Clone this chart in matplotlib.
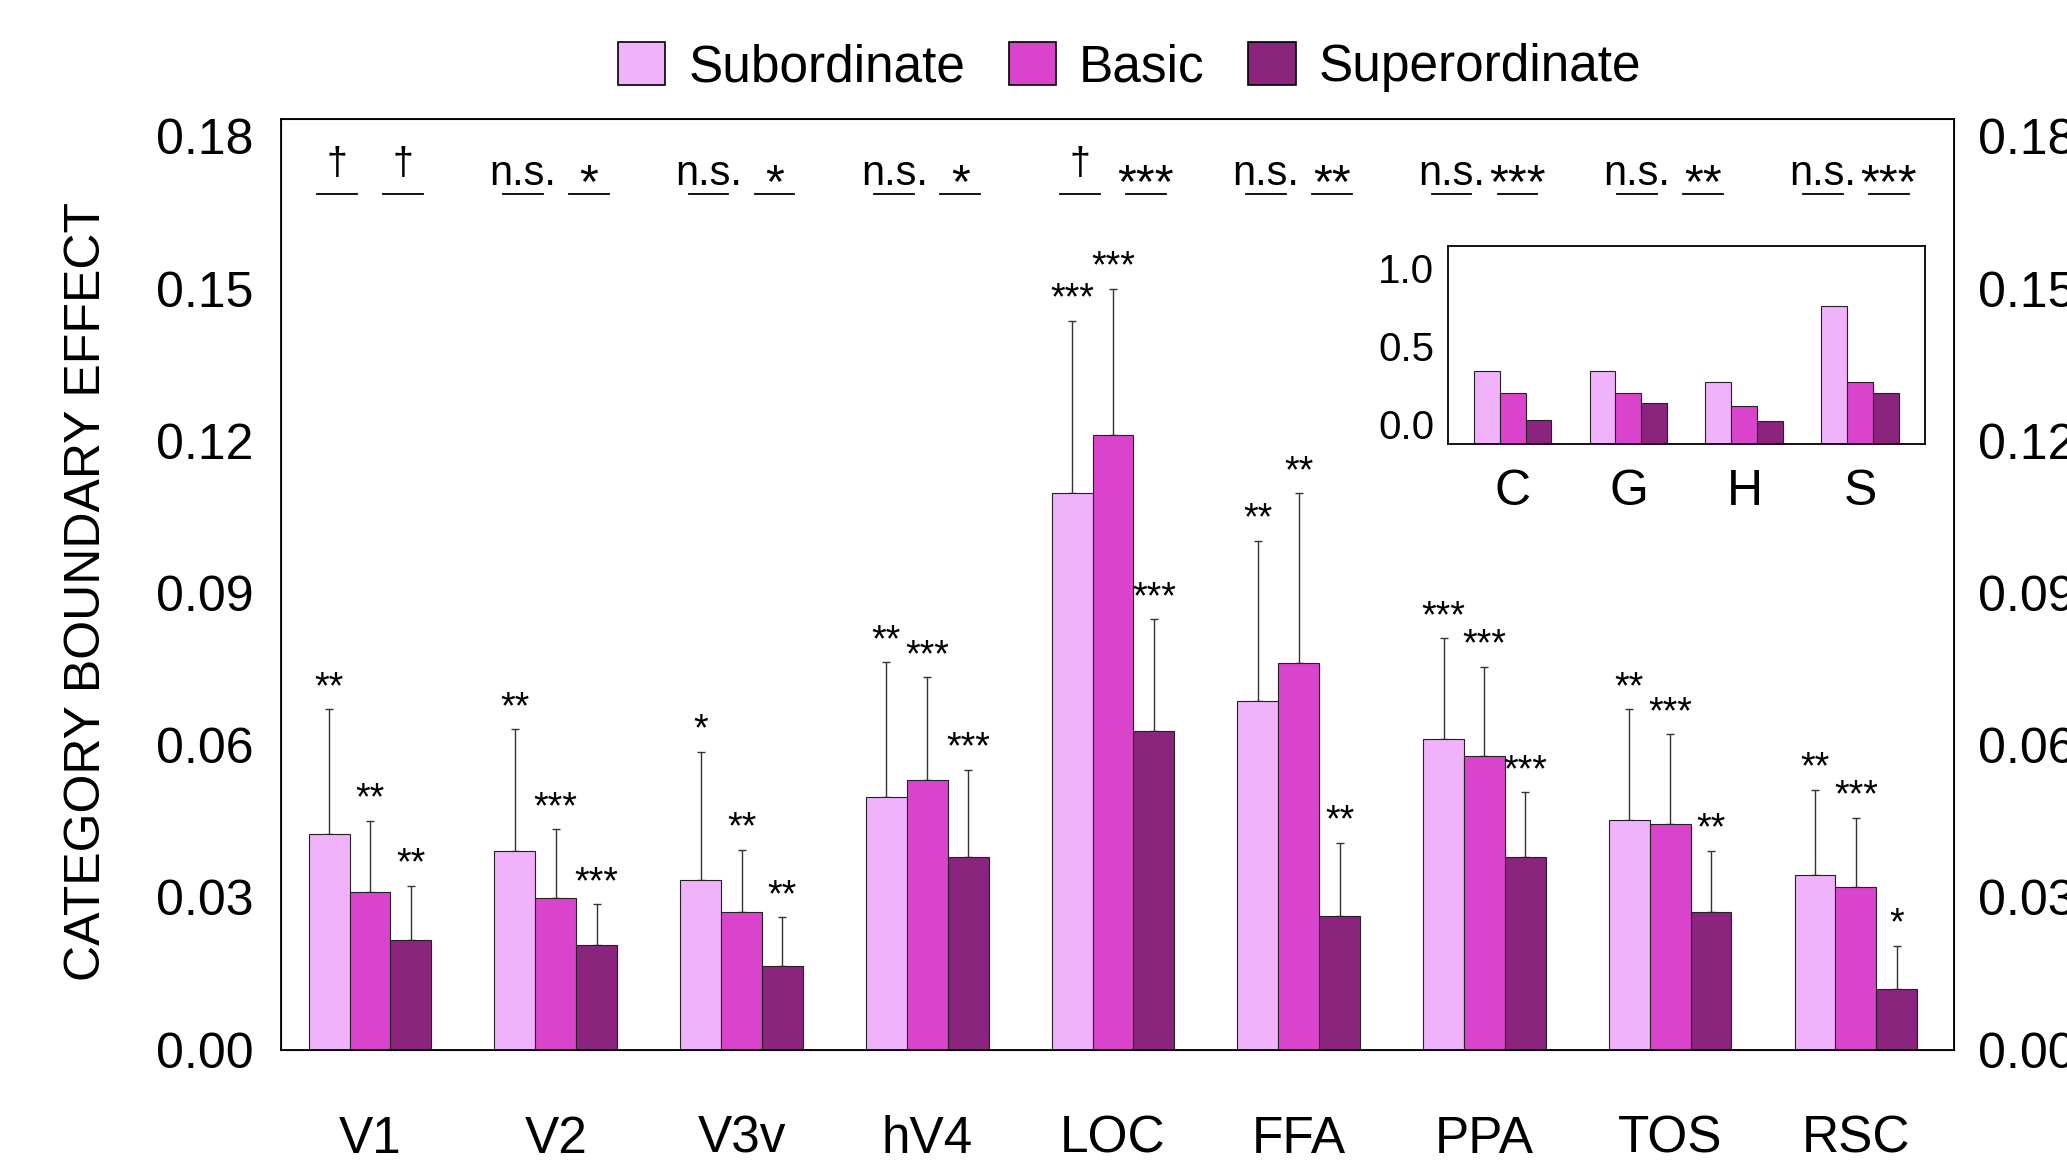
import matplotlib
matplotlib.use('Agg')
import matplotlib.pyplot as plt
import numpy as np
from matplotlib.patches import Patch

plt.rcParams['font.family'] = ['Liberation Sans', 'DejaVu Sans']

# ---------------- data ----------------
regions = ['V1', 'V2', 'V3v', 'hV4', 'LOC', 'FFA', 'PPA', 'TOS', 'RSC']
series_names = ['Subordinate', 'Basic', 'Superordinate']

sub_mean = [0.0426, 0.0392, 0.0335, 0.0498, 0.1097, 0.0687, 0.0613, 0.0453, 0.0345]
sub_err = [0.0245, 0.0240, 0.0252, 0.0266, 0.0340, 0.0316, 0.0198, 0.0218, 0.0167]
basic_mean = [0.0310, 0.0298, 0.0271, 0.0531, 0.1211, 0.0762, 0.0579, 0.0445, 0.0321]
basic_err = [0.0141, 0.0137, 0.0123, 0.0203, 0.0289, 0.0335, 0.0176, 0.0177, 0.0136]
super_mean = [0.0217, 0.0206, 0.0165, 0.0380, 0.0628, 0.0264, 0.0380, 0.0272, 0.0120]
super_err = [0.0106, 0.0081, 0.0096, 0.0172, 0.0221, 0.0144, 0.0128, 0.0120, 0.0085]

sub_sig = ['**', '**', '*', '**', '***', '**', '***', '**', '**']
basic_sig = ['**', '***', '**', '***', '***', '**', '***', '***', '***']
super_sig = ['**', '***', '**', '***', '***', '**', '***', '**', '*']

cmp_sub_basic = ['\u2020', 'n.s.', 'n.s.', 'n.s.', '\u2020', 'n.s.', 'n.s.', 'n.s.', 'n.s.']
cmp_basic_super = ['\u2020', '*', '*', '*', '***', '**', '***', '**', '***']

yticks = [0.00, 0.03, 0.06, 0.09, 0.12, 0.15, 0.18]
ylabel = 'CATEGORY BOUNDARY EFFECT'

inset_cats = ['C', 'G', 'H', 'S']
inset_sub = [0.338, 0.338, 0.267, 0.754]
inset_basic = [0.198, 0.198, 0.114, 0.267]
inset_super = [0.026, 0.134, 0.015, 0.198]
inset_yticks = [0.0, 0.5, 1.0]

# ---------------- style ----------------
colors = ['#F0B2FA', '#DA44CC', '#8A247C']
edge = '#222222'

fig = plt.figure(figsize=(20.67, 11.71), dpi=100)
ax = fig.add_axes([0.1359, 0.1036, 0.8096, 0.7951])

x = np.arange(len(regions))
w = 0.22
means = [sub_mean, basic_mean, super_mean]
errs = [sub_err, basic_err, super_err]
sigs = [sub_sig, basic_sig, super_sig]

for k in range(3):
    xs = x + (k - 1) * w
    m = np.array(means[k])
    e = np.array(errs[k])
    ax.bar(xs, m, w, color=colors[k], edgecolor=edge, linewidth=0.8, zorder=2)
    ax.errorbar(xs, m, yerr=[np.zeros_like(e), e], fmt='none', ecolor='#333333',
                elinewidth=1.0, capsize=3, capthick=1.0, zorder=1)
    for xi, top, s in zip(xs, m + e, sigs[k]):
        ax.annotate(s, (xi, top), xytext=(0, 8), textcoords='offset points',
                    ha='center', va='baseline', fontsize=27)

# comparison row
y_u = 0.1687
dx = 0.178
half = 0.107
offsets = {'n.s.': (6, 30), '\u2020': (14, 27)}
for i in range(len(regions)):
    for d, lab in ((-dx, cmp_sub_basic[i]), (dx, cmp_basic_super[i])):
        ax.plot([i + d - half, i + d + half], [y_u, y_u], color='black', lw=1.3)
        off, fs = offsets.get(lab, (-2.5, 35))
        ax.annotate(lab, (i + d, y_u), xytext=(0, off), textcoords='offset points',
                    ha='center', va='baseline', fontsize=fs)

ax.set_xlim(-0.48, 8.53)
ax.set_ylim(0, 0.1835)
ax.set_yticks(yticks)
ax.set_yticklabels(['%.2f' % t for t in yticks])
ax.set_xticks(x)
ax.set_xticklabels(regions)
ax.tick_params(axis='y', length=0, labelsize=36, pad=20)
ax.tick_params(axis='x', length=0, labelsize=37, pad=47)
for sp in ax.spines.values():
    sp.set_linewidth(1.3)

ax2 = ax.twinx()
ax2.set_ylim(0, 0.1835)
ax2.set_yticks(yticks)
ax2.set_yticklabels(['%.2f' % t for t in yticks])
ax2.tick_params(axis='y', length=0, labelsize=36, pad=17)

fig.text(0.042, 0.4953, ylabel, rotation=90, ha='center', va='center', fontsize=36)

handles = [Patch(facecolor=c, edgecolor='black', linewidth=1.2) for c in colors]
fig.legend(handles, series_names, loc='center', bbox_to_anchor=(0.5465, 0.9426), ncol=3,
           frameon=False, fontsize=37, handlelength=0.92, handleheight=0.9,
           handletextpad=0.45, columnspacing=0.85, borderaxespad=0)

# inset
ax_in = fig.add_axes([0.7005, 0.6208, 0.2308, 0.169])
xi_ = np.arange(len(inset_cats))
w2 = 0.224
y0 = -0.13
for k, vals in enumerate([inset_sub, inset_basic, inset_super]):
    v = np.array(vals)
    ax_in.bar(xi_ + (k - 1) * w2, v - y0, w2, bottom=y0, color=colors[k],
              edgecolor=edge, linewidth=0.8)
ax_in.set_xlim(-0.557, 3.557)
ax_in.set_ylim(y0, 1.14)
ax_in.set_yticks(inset_yticks)
ax_in.set_yticklabels(['%.1f' % t for t in inset_yticks])
ax_in.set_xticks(xi_)
ax_in.set_xticklabels(inset_cats)
ax_in.tick_params(axis='y', length=0, labelsize=29, pad=10)
ax_in.tick_params(axis='x', length=0, labelsize=36, pad=18)
for sp in ax_in.spines.values():
    sp.set_linewidth(1.3)

fig.savefig('out.png', dpi=100)
